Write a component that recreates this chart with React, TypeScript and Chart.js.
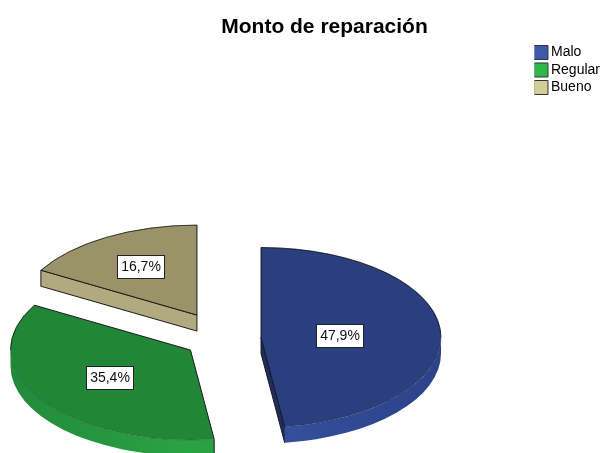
import React, { useEffect, useRef } from "react";
import { Chart, registerables } from "chart.js";

Chart.register(...registerables);

const titleText = "Monto de reparación";
const categories = ["Malo", "Regular", "Bueno"];
const percentages = [47.9, 35.4, 16.7];

const legendColors = ["#3E58AC", "#2EB848", "#D3CE97"];
const faceColors = ["#2B3F7E", "#228639", "#9A9369"];
const wallBright = ["#35519F", "#2AA344", "#B1AA80"];
const wallDark = ["#2C4289", "#228A3A", "#B1AA80"];
const edgeWallColors = ["#1E2C62", "#1E7C34", "#B1AA80"];

const FONT = "'Liberation Sans', Arial, sans-serif";
const PIE_RADIUS = 180;
const SQUASH = 0.5;
const DEPTH = 16;
const PIE_CENTER_X = 224.3;
const PIE_CENTER_Y = 338.7;
const explodeDistances = [36.8, 40.7, 54.6];
const labelRadii = [79, 98, 113];
const LEGEND_SHIFT_X = 9;
const LEGEND_SHIFT_Y = 42;
const TAU = Math.PI * 2;
const OUTLINE = "#1a1a1a";

const legendPlacement = {
  id: "legendPlacement",
  afterLayout(chart: any) {
    chart.legend.left += LEGEND_SHIFT_X;
    chart.legend.top += LEGEND_SHIFT_Y;
  },
};

const pie3d = {
  id: "pie3d",
  beforeDatasetsDraw(chart: any) {
    const { ctx } = chart;
    const arcs = chart.getDatasetMeta(0).data as any[];
    const order = [2, 1, 0];
    for (const i of order) {
      const arc = arcs[i];
      const start = arc.startAngle;
      const end = arc.endAngle;
      const mid = (start + end) / 2;
      const R = arc.outerRadius;
      const d = explodeDistances[i];
      const cx = PIE_CENTER_X + Math.cos(mid) * d;
      const cy = PIE_CENTER_Y + Math.sin(mid) * d * SQUASH;
      const px = (a: number) => cx + Math.cos(a) * R;
      const py = (a: number) => cy + Math.sin(a) * R * SQUASH;

      ctx.save();
      ctx.lineWidth = 1;
      ctx.strokeStyle = OUTLINE;
      ctx.lineJoin = "round";

      // radial walls which face the viewer
      for (const a of [start, end]) {
        const tangentY = a === start ? -Math.cos(a) : Math.cos(a);
        if (tangentY > 0.05) {
          ctx.beginPath();
          ctx.moveTo(cx, cy);
          ctx.lineTo(px(a), py(a));
          ctx.lineTo(px(a), py(a) + DEPTH);
          ctx.lineTo(cx, cy + DEPTH);
          ctx.closePath();
          ctx.fillStyle = edgeWallColors[i];
          ctx.fill();
          ctx.stroke();
        }
      }

      // curved wall along the front half of the ellipse
      const norm = (a: number) => ((a % TAU) + TAU) % TAU;
      let s = norm(start);
      let e = s + (end - start);
      if (s > Math.PI) {
        s -= TAU;
        e -= TAU;
      }
      const ws = Math.max(s, 0);
      const we = Math.min(e, Math.PI);
      if (we > ws) {
        const g = ctx.createLinearGradient(cx - R, 0, cx + R, 0);
        g.addColorStop(0, wallDark[i]);
        g.addColorStop(0.5, wallBright[i]);
        g.addColorStop(1, wallDark[i]);
        ctx.beginPath();
        ctx.ellipse(cx, cy, R, R * SQUASH, 0, ws, we);
        ctx.lineTo(px(we), py(we) + DEPTH);
        ctx.ellipse(cx, cy + DEPTH, R, R * SQUASH, 0, we, ws, true);
        ctx.closePath();
        ctx.fillStyle = g;
        ctx.fill();
        if (ws === s) {
          ctx.beginPath();
          ctx.moveTo(px(ws), py(ws));
          ctx.lineTo(px(ws), py(ws) + DEPTH);
          ctx.stroke();
        }
      }

      // top face, drawn by the library's own arc element
      ctx.save();
      ctx.translate(cx, cy);
      ctx.scale(1, SQUASH);
      ctx.translate(-arc.x, -arc.y);
      arc.draw(ctx);
      ctx.restore();

      // outlines of the top face
      ctx.beginPath();
      ctx.moveTo(px(start), py(start));
      ctx.lineTo(cx, cy);
      ctx.lineTo(px(end), py(end));
      ctx.stroke();
      // back half of the rim is strong, front half is faint
      ctx.beginPath();
      ctx.ellipse(cx, cy, R, R * SQUASH, 0, start, end);
      ctx.strokeStyle = "rgba(0,0,0,0.18)";
      ctx.stroke();
      const backEnd = Math.min(e, TAU);
      const backStart = Math.max(s, Math.PI);
      if (e <= 0 || s < 0) {
        ctx.beginPath();
        ctx.ellipse(cx, cy, R, R * SQUASH, 0, s, Math.min(e, 0));
        ctx.strokeStyle = "rgba(0,0,0,0.65)";
        ctx.stroke();
      }
      if (backEnd > backStart) {
        ctx.beginPath();
        ctx.ellipse(cx, cy, R, R * SQUASH, 0, backStart, backEnd);
        ctx.strokeStyle = "rgba(0,0,0,0.65)";
        ctx.stroke();
      }
      ctx.restore();
    }

    // value labels
    ctx.save();
    ctx.font = `14px ${FONT}`;
    ctx.textAlign = "center";
    ctx.textBaseline = "middle";
    arcs.forEach((arc, i) => {
      const mid = (arc.startAngle + arc.endAngle) / 2;
      const d = explodeDistances[i] + labelRadii[i];
      const x = PIE_CENTER_X + Math.cos(mid) * d;
      const y = PIE_CENTER_Y + Math.sin(mid) * d * SQUASH;
      const text = percentages[i].toFixed(1).replace(".", ",") + "%";
      const w = 47;
      const h = 23;
      const bx = Math.round(x - w / 2) + 0.5;
      const by = Math.round(y - h / 2 + 0.4) + 0.5;
      ctx.fillStyle = "#ffffff";
      ctx.strokeStyle = "#222222";
      ctx.lineWidth = 1;
      ctx.fillRect(bx, by, w, h);
      ctx.strokeRect(bx, by, w, h);
      ctx.fillStyle = "#111111";
      ctx.fillText(text, bx + w / 2, by + h / 2 + 0.5);
    });
    ctx.restore();
    return false;
  },
};

export default function App() {
  const ref = useRef<HTMLCanvasElement>(null);
  useEffect(() => {
    const chart = new Chart(ref.current as HTMLCanvasElement, {
      type: "pie",
      data: {
        labels: categories,
        datasets: [
          {
            data: percentages,
            backgroundColor: faceColors,
            borderWidth: 0,
          },
        ],
      },
      options: {
        responsive: false,
        animation: false,
        events: [],
        radius: PIE_RADIUS,
        layout: { padding: { left: 48, right: 0, top: 0, bottom: 0 } },
        plugins: {
          tooltip: { enabled: false },
          title: {
            display: true,
            text: titleText,
            color: "#000000",
            font: { family: FONT, size: 21, weight: "bold" },
            padding: { top: 15, bottom: 2 },
          },
          legend: {
            display: true,
            position: "right",
            align: "start",
            labels: {
              font: { family: FONT, size: 14 },
              color: "#111111",
              usePointStyle: true,
              boxWidth: 6,
              boxHeight: 14,
              padding: 3.5,
              generateLabels: () =>
                categories.map((text, i) => ({
                  text,
                  fillStyle: legendColors[i],
                  strokeStyle: "#333333",
                  lineWidth: 1,
                  pointStyle: "rect",
                  hidden: false,
                  index: i,
                })),
            },
          },
        },
      } as any,
      plugins: [legendPlacement, pie3d],
    });
    return () => chart.destroy();
  }, []);
  return (
    <div style={{ position: "absolute", left: 0, top: 0, width: 601, height: 453, background: "#fff" }}>
      <canvas ref={ref} width={601} height={453} style={{ display: "block", filter: "blur(0.35px)" }} />
    </div>
  );
}
